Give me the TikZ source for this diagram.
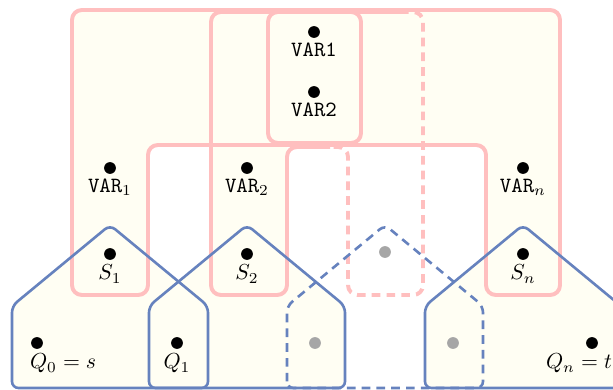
\documentclass[tikz,border=0pt]{standalone}
\usepackage{amsmath}
\usepackage{amssymb}
\usepackage{tikz}
\usetikzlibrary{positioning}

\definecolor{bagline}{RGB}{255,191,191}
\definecolor{pathline}{RGB}{102,130,190}
\definecolor{bagfill}{RGB}{255,254,243}

\newcommand\qhouse[1]{({#1-98},388) -- ({#1-98},306) -- (#1,225) -- ({#1+98},306) -- ({#1+98},388) -- cycle}

\begin{document}
\begin{tikzpicture}[x=0.46pt, y=-0.46pt,
    vtx/.style={circle, fill=black, inner sep=0pt, minimum size=5.4pt},
    gvtx/.style={vtx, fill=black!35},
    lbl/.style={inner sep=2pt},
    bag/.style={draw=bagline, line width=1.8pt, rounded corners=4.5pt},
    qbag/.style={draw=pathline, line width=1.2pt, rounded corners=3pt},
    dsh/.style={dash pattern=on 4pt off 2.8pt}]
    \useasboundingbox (0,0) rectangle (613,390);
    \clip (0,0) rectangle (613,390);

    \fill[bagfill, rounded corners=4.5pt] (72,10) -- (560,10) -- (560,295) -- (486,295) -- (486,145)
      -- (148,145) -- (148,295) -- (72,295) -- cycle;
    \fill[bagfill, rounded corners=4.5pt] (211,12) rectangle (287,295);
    \fill[bagfill, rounded corners=4.5pt] (268,12) rectangle (361,143);
    \fill[bagfill, rounded corners=3pt] \qhouse{110};
    \fill[bagfill, rounded corners=3pt] \qhouse{247};
    \fill[bagfill, rounded corners=3pt] \qhouse{523};

    \draw[bag] (72,10) -- (560,10) -- (560,295) -- (486,295) -- (486,145)
      -- (148,145) -- (148,295) -- (72,295) -- cycle;
    \draw[bag] (330,147) -- (287,147) -- (287,295) -- (211,295) -- (211,12) -- (400,12);
    \draw[bag, dsh] (400,12) -- (423,12) -- (423,295) -- (348,295) -- (348,147) -- (330,147);
    \draw[bag] (268,12) rectangle (361,143);
    \draw[qbag] \qhouse{110};
    \draw[qbag] \qhouse{247};
    \draw[qbag, dsh] \qhouse{385};
    \draw[qbag] \qhouse{523};

    \node[vtx] (var1) at (314,32) {};
    \node[lbl, below=0pt of var1] (var1l) {\texttt{VAR1}};
    \node[vtx] (var2) at (314,92) {};
    \node[lbl, below=0pt of var2] (var2l) {\texttt{VAR2}};

    \node[vtx] (x1) at (110,168) {};
    \node[lbl, below=0pt of x1] (x1l) {$\mathtt{VAR}_1$};
    \node[vtx] (x2) at (247,168) {};
    \node[lbl, below=0pt of x2] (x2l) {$\mathtt{VAR}_2$};
    \node[vtx] (xn) at (523,168) {};
    \node[lbl, below=0pt of xn] (xnl) {$\mathtt{VAR}_n$};

    \node[vtx] (s1) at (110,254) {};
    \node[lbl, below=0pt of s1] (s1l) {$S_1$};
    \node[vtx] (s2) at (247,254) {};
    \node[lbl, below=0pt of s2] (s2l) {$S_2$};
    \node[gvtx] (si) at (385,252) {};
    \node[vtx] (sn) at (523,254) {};
    \node[lbl, below=0pt of sn] (snl) {$S_n$};

    \node[vtx] (q0) at (37,343) {};
    \node[lbl, below=0pt of q0, xshift=12pt] (q0l) {$Q_0 = s$};
    \node[vtx] (q1) at (177,343) {};
    \node[lbl, below=0pt of q1] (q1l) {$Q_1$};
    \node[gvtx] (q2) at (315,343) {};
    \node[gvtx] (qi) at (453,343) {};
    \node[vtx] (qn) at (592,343) {};
    \node[lbl, below=0pt of qn, xshift=-6pt] (qnl) {$Q_n = t$};
\end{tikzpicture}
\end{document}
